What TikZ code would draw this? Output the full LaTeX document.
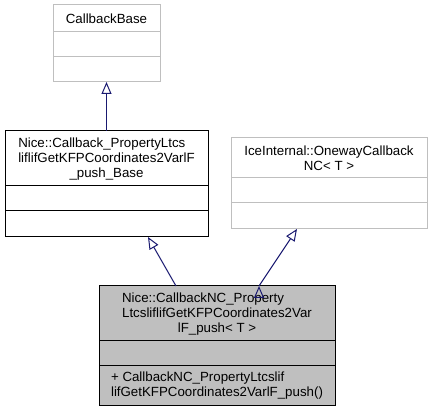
\documentclass[tikz,border=0pt]{standalone}
\usepackage{fontspec}
\setmainfont{Liberation Sans}
\usetikzlibrary{positioning,arrows.meta}
\definecolor{edgeblue}{HTML}{191970}
\definecolor{boxgray}{HTML}{BFBFBF}

\begin{document}
\begin{tikzpicture}[x=1pt,y=1pt,>={Triangle[open,length=12pt,width=10pt]},
    every node/.style={font=\fontsize{13.3}{15}\selectfont,inner sep=0pt,outer sep=0pt},
    cls/.style={rectangle,draw,line width=1pt},
    ext/.style={cls,draw=boxgray},
    cur/.style={cls,fill=boxgray},
    inherit/.style={->,draw=edgeblue,line width=1pt}]

            \useasboundingbox (0,0) rectangle (432,412);

            % base classes
            \node[ext, minimum width=107, minimum height=27] (cb) at (106.5,393.5) {CallbackBase};
            \node[ext, minimum width=107, minimum height=25] (cb-a) [below=0pt of cb]{};
            \node[ext, minimum width=107, minimum height=25] (cb-o) [below=0pt of cb-a]{};

            \node[cls, minimum width=203, minimum height=55, align=center] (base) [below=49pt of cb-o]
                {\begin{tabular}[b]{@{}l@{}}Nice::Callback\_PropertyLtcs\\liflifGetKFPCoordinates2VarlF\end{tabular}\\\_push\_Base};
            \node[cls, minimum width=203, minimum height=25] (base-a) [below=0pt of base]{};
            \node[cls, minimum width=203, minimum height=26] (base-o) [below=0pt of base-a]{};

            \node[ext, minimum width=196, minimum height=40, align=center, anchor=north] (ice) at (329,274)
                {IceInternal::OnewayCallback\\NC< T >};
            \node[ext, minimum width=196, minimum height=25] (ice-a) [below=0pt of ice]{};
            \node[ext, minimum width=196, minimum height=26] (ice-o) [below=0pt of ice-a]{};

            % the class itself
            \node[cur, minimum width=236, minimum height=55, align=center, anchor=north] (nc) at (217,126)
                {\begin{tabular}[b]{@{}l@{}}Nice::CallbackNC\_Property\\LtcsliflifGetKFPCoordinates2Var\end{tabular}\\lF\_push< T >};
            \node[cur, minimum width=236, minimum height=25] (nc-a) [below=0pt of nc]{};
            \node[cur, minimum width=236, minimum height=40, align=left] (nc-o) [below=0pt of nc-a]
                {+ CallbackNC\_PropertyLtcslif\\lifGetKFPCoordinates2VarlF\_push()};

            \path[inherit]
                (base.north) edge (cb-o.south)
                ([xshift=-41pt]nc.north) edge ([xshift=41.5pt]base-o.south)
                ([xshift=42pt]nc.north) edge ([xshift=-32pt]ice-o.south)
            ;
        \end{tikzpicture}
\end{document}
